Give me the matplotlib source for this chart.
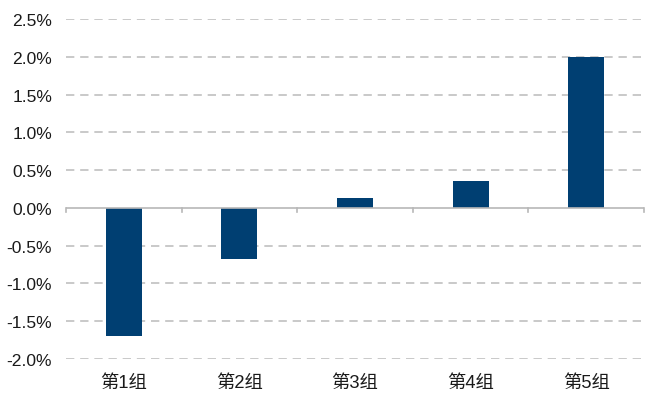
import matplotlib
matplotlib.use('Agg')
import matplotlib.pyplot as plt
import matplotlib.transforms as mtransforms
from matplotlib.ticker import FuncFormatter, MultipleLocator

plt.rcParams['font.family'] = ['Liberation Sans', 'Noto Sans CJK SC', 'DejaVu Sans']

# data
groups = ['第1组', '第2组', '第3组', '第4组', '第5组']
returns = [-1.70, -0.67, 0.13, 0.35, 2.00]  # percent

bar_color = '#003f72'
grid_color = '#c0c0c0'

fig = plt.figure(figsize=(6.54, 4.02), dpi=100)
ax = fig.add_axes([66 / 654, 1 - 360 / 402, (644 - 66) / 654, (360 - 20) / 402])

x = list(range(len(groups)))
ax.bar(x, returns, width=0.31, color=bar_color, zorder=3)

ax.set_xlim(-0.5, len(groups) - 0.5)
ax.set_ylim(-2.0, 2.5)
ax.yaxis.set_major_locator(MultipleLocator(0.5))
ax.yaxis.set_major_formatter(FuncFormatter(lambda v, p: '%.1f%%' % v))

# dashed grid, skip the zero line (drawn as axis)
for v in [-2.0, -1.5, -1.0, -0.5, 0.5, 1.0, 1.5, 2.0, 2.5]:
    ax.axhline(v, color=grid_color, lw=1.2, ls=(0, (5, 3.5)), zorder=1)
ax.axhline(0, color='#b8b8b8', lw=1.2, zorder=4)

# category boundary ticks on zero line
trans = mtransforms.blended_transform_factory(ax.transData, ax.transAxes)
zero_ax = 2.0 / 4.5
for b in [i - 0.5 for i in range(len(groups) + 1)]:
    ax.plot([b, b], [zero_ax, zero_ax - 0.013], color='#b8b8b8', lw=1.2,
            transform=trans, zorder=4, clip_on=False)

ax.set_xticks(x)
ax.set_xticklabels(groups)
ax.tick_params(axis='x', length=0, pad=11, labelsize=13.2, colors='#1a1a1a')
ax.tick_params(axis='y', length=0, pad=10, labelsize=12.6, colors='#1a1a1a')

for s in ax.spines.values():
    s.set_visible(False)

plt.savefig('out.png', dpi=100)
plt.close()
